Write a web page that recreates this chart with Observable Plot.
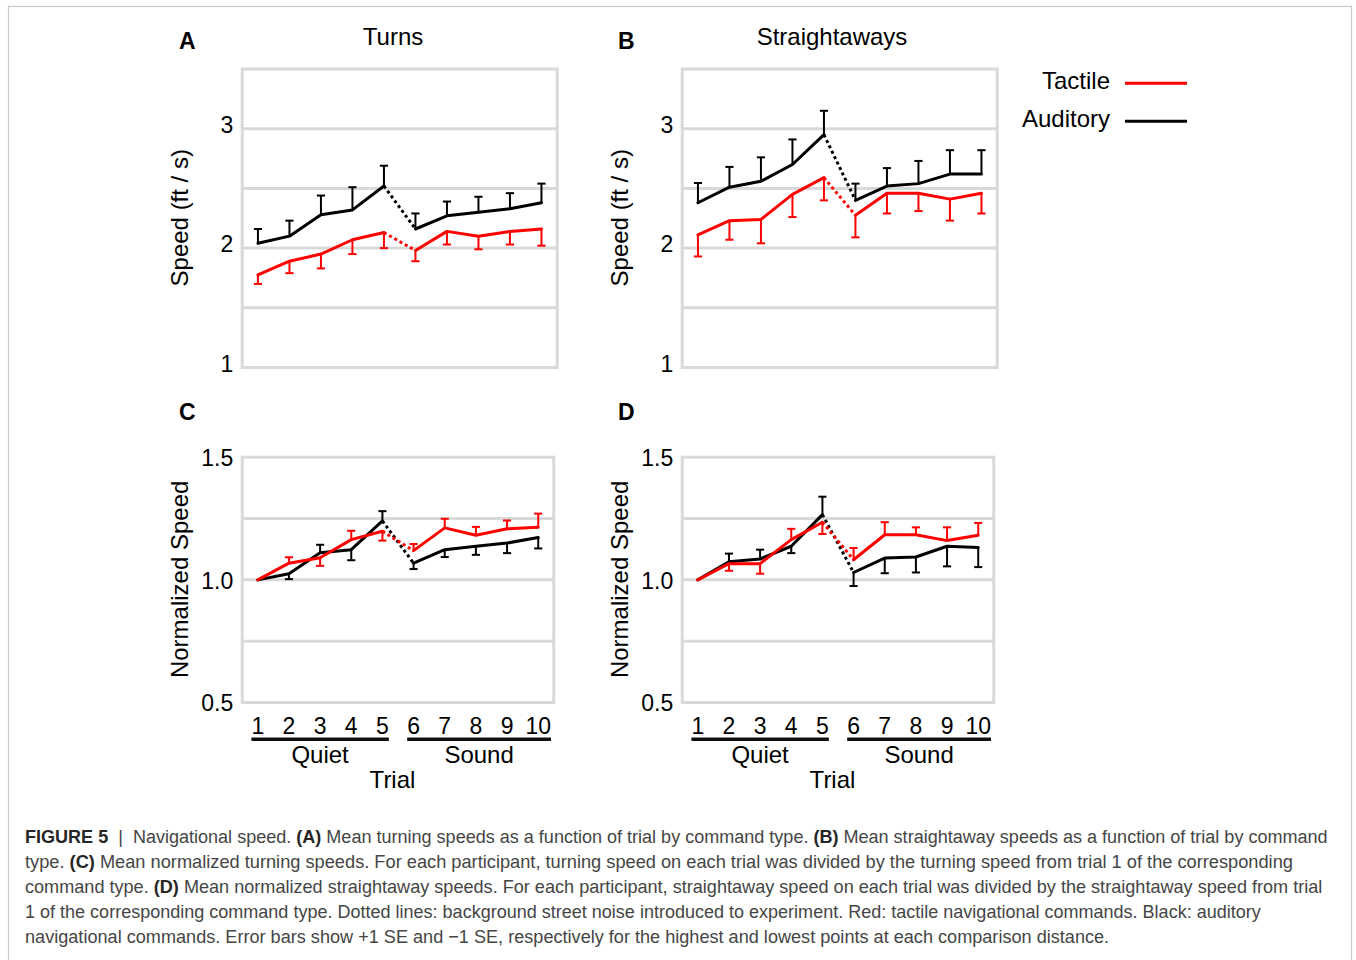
<!DOCTYPE html>
<html><head><meta charset="utf-8">
<script src="https://cdn.jsdelivr.net/npm/d3@7"></script>
<script src="https://cdn.jsdelivr.net/npm/@observablehq/plot@0.6"></script>
<style>
body{margin:0;background:#fff;}
#fig{position:relative;width:1356px;height:960px;overflow:hidden;background:#fff;font-family:"Liberation Sans",Arial,sans-serif;}
</style></head><body><div id="fig"></div><script>
// ---------- data ----------
const trials = [1, 2, 3, 4, 5, 6, 7, 8, 9, 10];
const seriesNames = ["Auditory", "Tactile"];
const seriesColors = ["#000000", "#ff0000"];
const legendOrder = ["Tactile", "Auditory"];
const groupNames = ["Quiet", "Sound"];
const groupTrials = [[1, 5], [6, 10]];
const speedTicks = [1, 2, 3];
const speedGrid = [1.5, 2, 2.5, 3];
const normTicks = [0.5, 1.0, 1.5];
const normGrid = [0.75, 1.0, 1.25];

// A: turns (ft/s)
const turnsAuditory    = [2.04, 2.10, 2.28, 2.32, 2.52, 2.16, 2.27, 2.30, 2.33, 2.38];
const turnsAuditoryErr = [2.16, 2.23, 2.44, 2.51, 2.69, 2.29, 2.39, 2.43, 2.46, 2.54];
const turnsTactile     = [1.775, 1.89, 1.95, 2.07, 2.13, 1.98, 2.14, 2.10, 2.14, 2.16];
const turnsTactileErr  = [1.70, 1.79, 1.83, 1.95, 2.00, 1.89, 2.03, 1.99, 2.03, 2.02];
// B: straightaways (ft/s)
const straightAuditory    = [2.38, 2.51, 2.56, 2.70, 2.95, 2.40, 2.52, 2.54, 2.62, 2.62];
const straightAuditoryErr = [2.545, 2.68, 2.76, 2.91, 3.15, 2.54, 2.67, 2.73, 2.82, 2.82];
const straightTactile     = [2.11, 2.23, 2.24, 2.45, 2.59, 2.275, 2.46, 2.46, 2.41, 2.46];
const straightTactileErr  = [1.93, 2.07, 2.04, 2.26, 2.40, 2.09, 2.29, 2.31, 2.23, 2.29];
// C: normalized turns
const normTurnsAuditory    = [1.0, 1.025, 1.11, 1.123, 1.24, 1.068, 1.123, 1.137, 1.150, 1.173];
const normTurnsAuditoryErr = [null, 1.003, 1.143, 1.08, 1.28, 1.044, 1.093, 1.102, 1.109, 1.128];
const normTurnsTactile     = [1.0, 1.068, 1.09, 1.164, 1.198, 1.119, 1.212, 1.182, 1.208, 1.214];
const normTurnsTactileErr  = [null, 1.092, 1.057, 1.20, 1.16, 1.146, 1.249, 1.216, 1.242, 1.270];
// D: normalized straightaways
const normStraightAuditory    = [1.0, 1.074, 1.085, 1.137, 1.266, 1.030, 1.089, 1.093, 1.137, 1.132];
const normStraightAuditoryErr = [null, 1.107, 1.123, 1.109, 1.339, 0.975, 1.027, 1.03, 1.055, 1.052];
const normStraightTactile     = [1.0, 1.066, 1.066, 1.164, 1.235, 1.082, 1.184, 1.184, 1.16, 1.182];
const normStraightTactileErr  = [null, 1.037, 1.025, 1.208, 1.187, 1.13, 1.235, 1.214, 1.214, 1.232];

const captionLines = [
  [["FIGURE 5", true], ["  |  Navigational speed. ", false], ["(A)", true], [" Mean turning speeds as a function of trial by command type. ", false], ["(B)", true], [" Mean straightaway speeds as a function of trial by command", false]],
  [["type. ", false], ["(C)", true], [" Mean normalized turning speeds. For each participant, turning speed on each trial was divided by the turning speed from trial 1 of the corresponding", false]],
  [["command type. ", false], ["(D)", true], [" Mean normalized straightaway speeds. For each participant, straightaway speed on each trial was divided by the straightaway speed from trial", false]],
  [["1 of the corresponding command type. Dotted lines: background street noise introduced to experiment. Red: tactile navigational commands. Black: auditory", false]],
  [["navigational commands. Error bars show +1 SE and \u22121 SE, respectively for the highest and lowest points at each comparison distance.", false]]
];

// ---------- layout ----------
const FONT = '"Liberation Sans", Arial, Helvetica, sans-serif';
const GRID = "#d9d9d9";
const fig = document.getElementById("fig");

const ov = d3.select(fig).append("svg")
  .attr("width", 1356).attr("height", 960)
  .style("position", "absolute").style("left", "0px").style("top", "0px")
  .style("font-family", FONT);
ov.append("rect").attr("x", 8.5).attr("y", 6.5).attr("width", 1343).attr("height", 1000)
  .attr("fill", "none").attr("stroke", "#c8c8c8").attr("stroke-width", 1.2);

// panel letters and titles
[["A", 179, 48.5], ["B", 618, 48.5], ["C", 179, 419.5], ["D", 618, 419.5]].forEach(([t, x, y]) =>
  ov.append("text").attr("x", x).attr("y", y).style("font-size", "23px").style("font-weight", "bold").text(t));
[["Turns", 393, 45], ["Straightaways", 832, 45]].forEach(([t, x, y]) =>
  ov.append("text").attr("x", x).attr("y", y).attr("text-anchor", "middle").style("font-size", "24px").text(t));

// legend
legendOrder.forEach((name, i) => {
  const y = 83.3 + i * 38;
  const col = seriesColors[seriesNames.indexOf(name)];
  ov.append("text").attr("x", 1110).attr("y", y + 5.5).attr("text-anchor", "end").style("font-size", "24px").text(name);
  ov.append("line").attr("x1", 1125).attr("x2", 1187).attr("y1", y).attr("y2", y).attr("stroke", col).attr("stroke-width", 3);
});

// caption: each line sized so its natural width fits the reference line width
const capWidths = [1303, 1269, 1298, 1237, 1085];
captionLines.forEach((parts, i) => {
  const base = 18;
  const t = ov.append("text").attr("x", 25).attr("y", 842.5 + i * 25.1)
    .style("font-size", base + "px").style("fill", "#454545").attr("xml:space", "preserve");
  parts.forEach(([s, b]) => {
    const sp = t.append("tspan").text(s);
    if (b) sp.style("font-weight", "bold").style("fill", "#262626");
  });
  const w = t.node().getComputedTextLength();
  if (w > 0) {
    const fs = Math.max(16, Math.min(19, base * capWidths[i] / w));
    t.style("font-size", fs.toFixed(2) + "px");
  }
});

function makePanel(cfg) {
  const rows = [];
  seriesNames.forEach((name, si) => {
    trials.forEach((t, i) => rows.push({
      trial: t, v: cfg.values[si][i], err: cfg.errors[si][i], series: name,
      phase: t <= groupTrials[0][1] ? groupNames[0] : groupNames[1]
    }));
  });
  const bridge = rows.filter(d => d.trial === groupTrials[0][1] || d.trial === groupTrials[1][0]);
  const errRows = rows.filter(d => d.err != null);
  const cap = 0.13;
  const chart = Plot.plot({
    width: cfg.width, height: cfg.height,
    marginTop: cfg.mt, marginBottom: cfg.mb, marginLeft: cfg.ml, marginRight: cfg.mr,
    style: {fontFamily: FONT, fontSize: "23px", color: "#000", background: "transparent", overflow: "visible"},
    x: {domain: [0.5, 10.5], axis: null},
    y: {domain: cfg.yDomain, axis: null},
    color: {domain: seriesNames, range: seriesColors},
    marks: [
      Plot.ruleY(cfg.grid, {stroke: GRID, strokeWidth: 3}),
      Plot.frame({stroke: GRID, strokeWidth: 3}),
      Plot.axisY({ticks: cfg.ticks, tickSize: 0, tickPadding: 9, tickFormat: cfg.fmt, fontSize: 23, dy: cfg.tickDy, label: null}),
      cfg.xAxis ? Plot.axisX({ticks: trials, tickSize: 0, tickPadding: 15, fontSize: 23, label: null, tickFormat: d => String(d)}) : null,
      Plot.ruleX(errRows, {x: "trial", y1: "v", y2: "err", stroke: "series", strokeWidth: 2}),
      Plot.link(errRows, {x1: d => d.trial - cap, x2: d => d.trial + cap, y1: "err", y2: "err", stroke: "series", strokeWidth: 2}),
      Plot.line(rows, {x: "trial", y: "v", z: d => d.series + d.phase, stroke: "series", strokeWidth: 3}),
      Plot.line(bridge, {x: "trial", y: "v", z: "series", stroke: "series", strokeWidth: 3, strokeDasharray: "3,3", strokeLinecap: "butt"})
    ]
  });
  chart.style.position = "absolute";
  chart.style.left = cfg.left + "px";
  chart.style.top = cfg.top + "px";
  fig.appendChild(chart);
  const svg = d3.select(chart);
  const ft = cfg.mt, fb = cfg.height - cfg.mb;
  svg.append("text")
    .attr("transform", `translate(${cfg.ml - 54},${(ft + fb) / 2}) rotate(-90)`)
    .attr("text-anchor", "middle").style("font-size", "24px").attr("fill", "#000").text(cfg.yLabel);
  if (cfg.xAxis) {
    const r0 = chart.getBoundingClientRect();
    const xs = chart.scale("x");
    const box = {};
    svg.selectAll("text").each(function () {
      const s = this.textContent.trim();
      if (/^\d+$/.test(s) && this.closest('g[aria-label="x-axis tick label"]')) {
        const r = this.getBoundingClientRect();
        box[s] = {l: r.left - r0.left, r: r.right - r0.left};
      }
    });
    groupTrials.forEach(([a, b], gi) => {
      const x1 = box[a] ? box[a].l : xs.apply(a) - 7;
      const x2 = box[b] ? box[b].r : xs.apply(b) + 7;
      svg.append("line").attr("x1", x1).attr("x2", x2).attr("y1", fb + 37.3).attr("y2", fb + 37.3)
        .attr("stroke", "#111").attr("stroke-width", 3.5);
      svg.append("text").attr("x", (x1 + x2) / 2).attr("y", fb + 61.3).attr("text-anchor", "middle")
        .style("font-size", "24px").attr("fill", "#000").text(groupNames[gi]);
    });
    svg.append("text").attr("x", (cfg.ml + cfg.width - cfg.mr) / 2 - 5).attr("y", fb + 86.3)
      .attr("text-anchor", "middle").style("font-size", "24px").attr("fill", "#000").text("Trial");
  }
}

const speedFmt = d => String(d);
const normFmt = d3.format(".1f");
makePanel({left: 150, top: 60, width: 420, height: 320, mt: 8.5, mb: 13, ml: 91.7, mr: 13.3, tickDy: -3,
  yDomain: [1, 3.5], grid: speedGrid, ticks: speedTicks, fmt: speedFmt, yLabel: "Speed (ft / s)",
  values: [turnsAuditory, turnsTactile], errors: [turnsAuditoryErr, turnsTactileErr]});
makePanel({left: 590, top: 60, width: 420, height: 320, mt: 8.5, mb: 13, ml: 91.7, mr: 13.3, tickDy: -3,
  yDomain: [1, 3.5], grid: speedGrid, ticks: speedTicks, fmt: speedFmt, yLabel: "Speed (ft / s)",
  values: [straightAuditory, straightTactile], errors: [straightAuditoryErr, straightTactileErr]});
makePanel({left: 150, top: 440, width: 420, height: 360, mt: 16.7, mb: 98, ml: 91.7, mr: 16.7, tickDy: 1.5,
  yDomain: [0.5, 1.5], grid: normGrid, ticks: normTicks, fmt: normFmt, yLabel: "Normalized Speed", xAxis: true,
  values: [normTurnsAuditory, normTurnsTactile], errors: [normTurnsAuditoryErr, normTurnsTactileErr]});
makePanel({left: 590, top: 440, width: 420, height: 360, mt: 16.7, mb: 98, ml: 91.7, mr: 16.7, tickDy: 1.5,
  yDomain: [0.5, 1.5], grid: normGrid, ticks: normTicks, fmt: normFmt, yLabel: "Normalized Speed", xAxis: true,
  values: [normStraightAuditory, normStraightTactile], errors: [normStraightAuditoryErr, normStraightTactileErr]});
</script></body></html>
